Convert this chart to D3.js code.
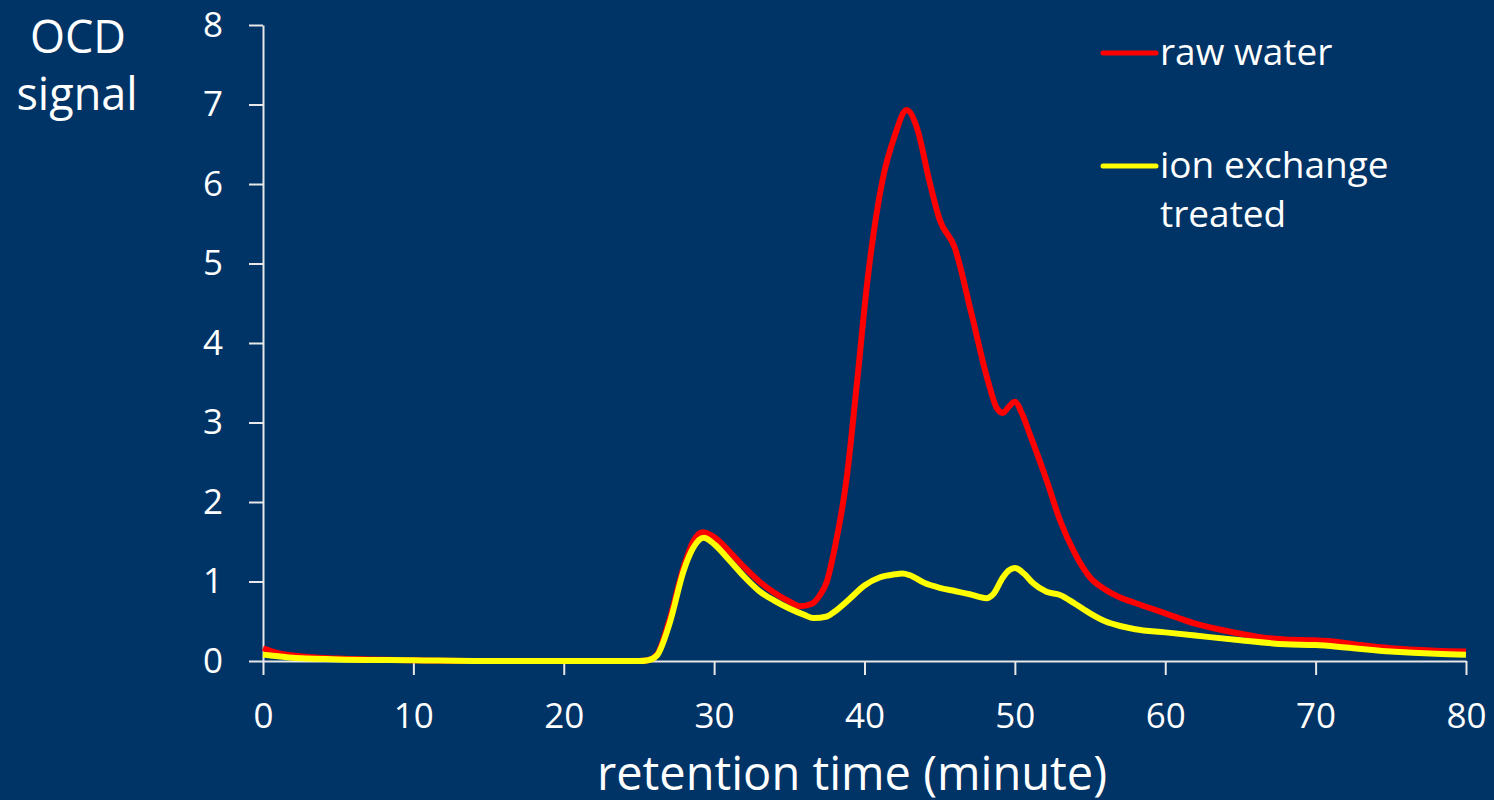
<!DOCTYPE html>
<html>
<head>
<meta charset="utf-8">
<script src="https://cdn.jsdelivr.net/npm/d3@7"></script>
<style>
  html, body { margin: 0; padding: 0; background: #003366; }
  svg { display: block; font-family: "Open Sans", sans-serif; }
</style>
</head>
<body>
<div id="chart"></div>
<script>
const WIDTH = 1494, HEIGHT = 800;

// retention time (minute) samples
const rawTime = [0, 1, 2, 3, 5, 10, 15, 20, 25, 25.6, 26.2, 27, 28, 28.6, 29.2, 30, 31, 32, 33, 34, 35, 35.7, 36.5, 37, 37.5, 38, 38.8, 39.5, 40.2, 41.2, 42, 42.8, 43.5, 44.3, 45, 46, 47.1, 48.2, 48.8, 49.2, 49.6, 50, 50.5, 51, 52.1, 53, 54, 55, 56, 57, 58, 60, 62, 64, 66, 68, 70, 71, 73, 75, 78, 80];
const rawSignal = [0.16, 0.1, 0.07, 0.05, 0.03, 0.01, 0.0, 0.0, 0.0, 0.01, 0.08, 0.5, 1.2, 1.5, 1.62, 1.56, 1.38, 1.18, 1.0, 0.86, 0.75, 0.69, 0.72, 0.82, 1.0, 1.4, 2.28, 3.5, 4.79, 6.05, 6.6, 6.93, 6.7, 6.05, 5.55, 5.2, 4.38, 3.53, 3.18, 3.12, 3.2, 3.26, 3.1, 2.85, 2.28, 1.77, 1.35, 1.05, 0.9, 0.8, 0.73, 0.6, 0.47, 0.38, 0.31, 0.27, 0.26, 0.25, 0.2, 0.16, 0.13, 0.12];

const ionTime = [0, 1, 2, 3, 5, 10, 15, 20, 25, 25.6, 26.2, 27, 28, 28.6, 29.3, 30, 31, 32, 33, 34, 35, 36, 36.6, 37.5, 38, 39, 40, 41, 42, 42.5, 43, 44, 45, 46, 47, 48.1, 48.6, 49.2, 49.6, 50, 50.6, 51.2, 52.1, 53, 54, 55, 56, 57, 58, 60, 62, 65, 68, 70, 72, 75, 78, 80];
const ionSignal = [0.08, 0.06, 0.04, 0.03, 0.02, 0.01, 0.0, 0.0, 0.0, 0.01, 0.07, 0.45, 1.15, 1.42, 1.55, 1.47, 1.27, 1.06, 0.88, 0.76, 0.66, 0.58, 0.54, 0.56, 0.62, 0.78, 0.95, 1.05, 1.09, 1.1, 1.08, 0.98, 0.92, 0.88, 0.84, 0.79, 0.85, 1.05, 1.14, 1.17, 1.1, 0.98, 0.87, 0.83, 0.72, 0.6, 0.5, 0.44, 0.4, 0.36, 0.32, 0.26, 0.21, 0.2, 0.17, 0.12, 0.09, 0.08];

const xTicks = [0, 10, 20, 30, 40, 50, 60, 70, 80];
const yTicks = [0, 1, 2, 3, 4, 5, 6, 7, 8];

const seriesNames = [["raw water"], ["ion exchange", "treated"]];
const seriesColors = ["#ff0000", "#ffff00"];

const svg = d3.select("#chart").append("svg")
  .attr("width", WIDTH).attr("height", HEIGHT);

svg.append("rect").attr("width", WIDTH).attr("height", HEIGHT).attr("fill", "#003366");

const x = d3.scaleLinear().domain([0, 80]).range([263, 1466]);
const y = d3.scaleLinear().domain([0, 8]).range([661, 25]);

// axes
const xAxis = svg.append("g")
  .attr("transform", `translate(0,${y(0)})`)
  .call(d3.axisBottom(x).tickValues(xTicks).tickSize(14).tickPadding(28).tickSizeOuter(0));
const yAxis = svg.append("g")
  .attr("transform", `translate(${x(0)},0)`)
  .call(d3.axisLeft(y).tickValues(yTicks).tickSize(14).tickPadding(26).tickSizeOuter(0));

[xAxis, yAxis].forEach(g => {
  g.select(".domain").attr("stroke", "#e8e8e8").attr("stroke-width", 2);
  g.selectAll(".tick line").attr("stroke", "#e8e8e8").attr("stroke-width", 2);
  g.selectAll(".tick text").attr("fill", "#ffffff")
    .style("font-size", "35px").style("font-family", "'Open Sans', sans-serif");
});

// lines
const line = d3.line()
  .x(d => x(d[0]))
  .y(d => y(d[1]))
  .curve(d3.curveMonotoneX);

const rawData = rawTime.map((t, i) => [t, rawSignal[i]]);
const ionData = ionTime.map((t, i) => [t, ionSignal[i]]);

[rawData, ionData].forEach((data, i) => {
  svg.append("path").datum(data)
    .attr("d", line).attr("fill", "none")
    .attr("stroke", seriesColors[i]).attr("stroke-width", 6)
    .attr("stroke-linejoin", "round");
});

// legend
const legendY = [53, 166];
seriesNames.forEach((lines, i) => {
  const ly = legendY[i];
  svg.append("line")
    .attr("x1", 1103).attr("x2", 1156).attr("y1", ly).attr("y2", ly)
    .attr("stroke", seriesColors[i]).attr("stroke-width", 5).attr("stroke-linecap", "round");
  const t = svg.append("text").attr("x", 1160).attr("y", ly + 12)
    .attr("fill", "#fff").style("font-size", "37px");
  lines.forEach((s, j) => {
    t.append("tspan").attr("x", 1160).attr("dy", j === 0 ? 0 : 49).text(s);
  });
});

// axis titles
svg.append("text").attr("x", 852).attr("y", 790)
  .attr("text-anchor", "middle").attr("fill", "#fff")
  .style("font-size", "47px").text("retention time (minute)");

const yt = svg.append("text").attr("text-anchor", "middle").attr("fill", "#fff")
  .style("font-size", "45px");
yt.append("tspan").attr("x", 78).attr("y", 53).text("OCD");
yt.append("tspan").attr("x", 77).attr("y", 110).text("signal");
</script>
</body>
</html>
